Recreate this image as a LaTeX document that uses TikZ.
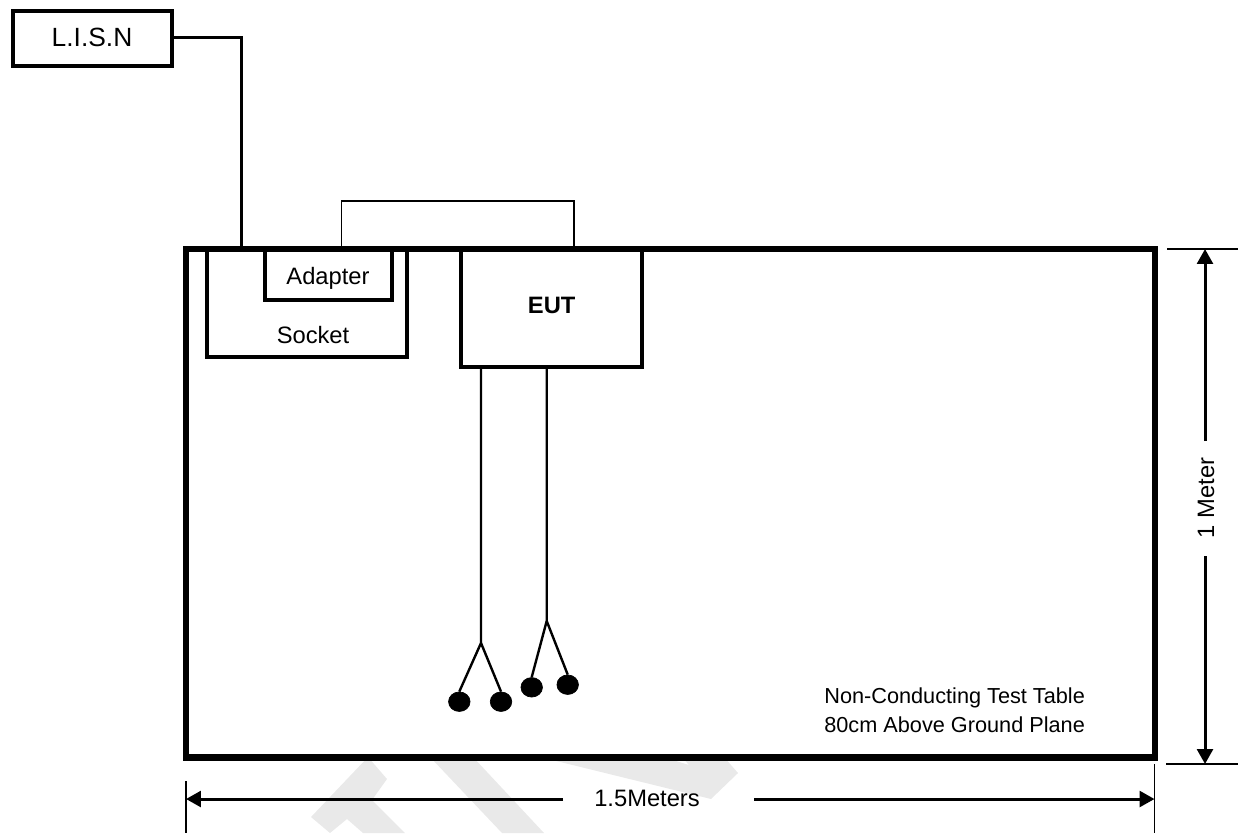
\documentclass[tikz,border=0pt]{standalone}
\usepackage{fontspec}
\setmainfont{Liberation Sans}
\usepackage{tikz}
\usetikzlibrary{positioning}
\usetikzlibrary{shapes.geometric}
\usetikzlibrary{arrows.meta}
\definecolor{wmark}{HTML}{E9E9E9}
\def\px{0.02cm}
\newcommand{\lblsize}{\fontsize{13.5}{16.7}\selectfont}
\tikzset{
  boxline/.style={draw,line width=4*\px,inner sep=0pt,outer sep=0pt},
  tableline/.style={draw,line width=6.5*\px},
  wire/.style={line width=2.4*\px},
  dimline/.style={line width=3*\px,-{Triangle[length=8.5pt,width=9pt]}},
  tickline/.style={line width=1.6*\px},
  lead/.style={draw,fill=black,ellipse,inner sep=0pt,minimum width=21.5*\px,minimum height=19.5*\px},
  lbl/.style={inner sep=0pt,font=\lblsize,anchor=base}
}

\begin{document}
\begin{tikzpicture}[x=\px,y=-\px]
  \useasboundingbox (0,0) rectangle (1239,833);
  % watermark pieces under the table
  \fill[wmark] (368,757) -- (387,779) -- (372,800) -- (405,833) -- (363,833) -- (347,819) -- (330,833) -- (311,817) -- cycle;
  \fill[wmark] (430,757) -- (473,757) -- (544,833) -- (502,833) -- cycle;
  \fill[wmark] (540,757) -- (711,799) -- (738,773) -- (724,757) -- (682,757) -- (689,765) -- (663,757) -- cycle;
  % table and boxes
  \node[boxline,minimum width=159*\px,minimum height=55*\px] (lisn) at (92.5,38.5) {};
  \node[tableline,inner sep=0pt,outer sep=0pt,minimum width=969*\px,minimum height=508.5*\px] (table) at (670.5,503.25) {};
  \node[boxline,minimum width=200*\px,minimum height=108*\px] (socket) at (307,303) {};
  \node[boxline,minimum width=127.5*\px,minimum height=51*\px] (adapter) at (328.25,274.5) {};
  \node[boxline,minimum width=181*\px,minimum height=118*\px] (eut) at (551.5,308) {};
  % box labels
  \node[lbl,font=\fontsize{15}{18}\selectfont] (lisnlbl) at (92,46.5) {L.I.S.N};
  \node[lbl] (adapterlbl) at (328,284) {Adapter};
  \node[lbl] (socketlbl) at (313,343) {Socket};
  \node[lbl,font=\lblsize\bfseries] (eutlbl) at (551.7,313) {EUT};
  \node[inner sep=0pt,anchor=west,align=left,font=\fontsize{12.35}{16.7}\selectfont] (tablelbl) at (824,710) {Non-Conducting Test Table\\80cm Above Ground Plane};
  % cable runs
  \coordinate (lisnbend) at (241,37);
  \coordinate (lisnend) at (241,249);
  \coordinate (linkl) at (341.5,249);
  \coordinate (linkr) at (574,249);
  \coordinate (linktop) at (574,201);
  \draw[wire,line width=3*\px] (lisn.east |- lisnbend) -- (lisnbend) -- (lisnend);
  \draw[wire,line width=1.7*\px] (linkl) |- (linktop) -- (linkr);
  % leads with their two ends
  \foreach \j/\xj/\yj/\xa/\ya/\xb/\yb in {p/481/643/459.3/701.7/501/701.7,q/546.7/621/531.7/687.3/567.7/684.7} {
    \coordinate (j\j) at (\xj,\yj);
    \node[lead] (\j a) at (\xa,\ya) {};
    \node[lead] (\j b) at (\xb,\yb) {};
    \draw[wire] (eut.south -| j\j) -- (j\j) -- (\j a.north);
    \draw[wire] (j\j) -- (\j b.north);
  }
  % dimensions
  \coordinate (wtickl) at (186,781);
  \coordinate (wtickle) at (186,833);
  \coordinate (wtickr) at (1154.5,764);
  \coordinate (wtickre) at (1154.5,833);
  \coordinate (htickt) at (1167,249);
  \coordinate (htickte) at (1238,249);
  \coordinate (htickb) at (1166,764);
  \coordinate (htickbe) at (1238,764);
  \draw[tickline] (wtickl) -- (wtickle);
  \draw[tickline] (wtickr) -- (wtickre);
  \draw[tickline] (htickt) -- (htickte);
  \draw[tickline] (htickb) -- (htickbe);
  \node[lbl] (widthlbl) at (647,806) {1.5Meters};
  \node[inner sep=0pt,font=\lblsize,rotate=90] (heightlbl) at (1206,498) {1 Meter};
  \coordinate (wl) at (563,799);
  \coordinate (wr) at (754,799);
  \coordinate (hu) at (1205,441);
  \coordinate (hd) at (1205,556);
  \draw[dimline] (wl) -- (wl -| wtickl);
  \draw[dimline] (wr) -- (wr -| wtickr);
  \draw[dimline] (hu) -- (hu |- htickt);
  \draw[dimline] (hd) -- (hd |- htickb);
\end{tikzpicture}
\end{document}
